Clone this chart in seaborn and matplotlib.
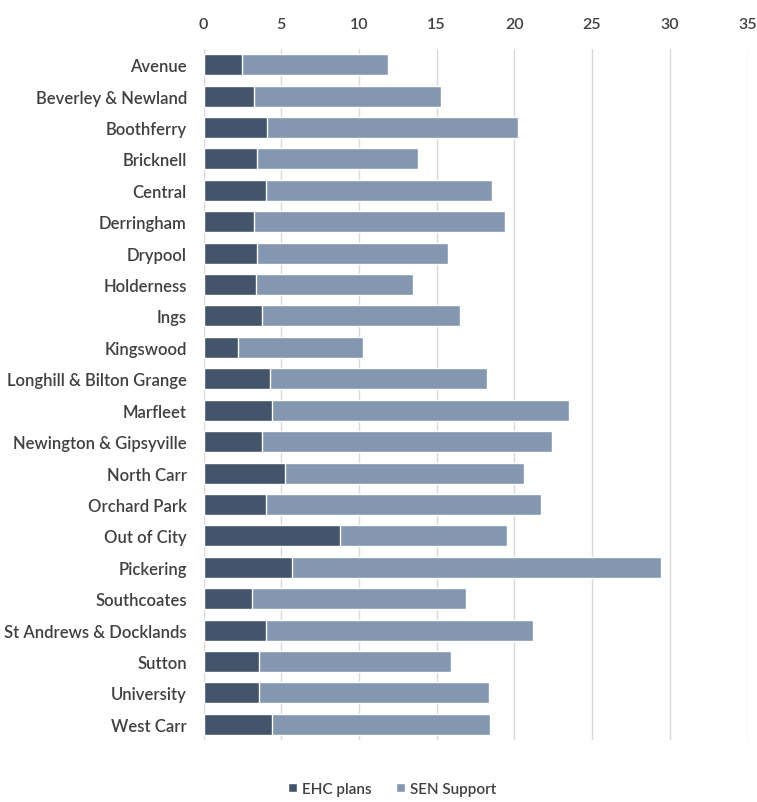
import matplotlib
matplotlib.use("Agg")
import matplotlib.pyplot as plt
from matplotlib.patches import Patch
import seaborn as sns
import pandas as pd

wards = [
    "Avenue", "Beverley & Newland", "Boothferry", "Bricknell", "Central",
    "Derringham", "Drypool", "Holderness", "Ings", "Kingswood",
    "Longhill & Bilton Grange", "Marfleet", "Newington & Gipsyville",
    "North Carr", "Orchard Park", "Out of City", "Pickering", "Southcoates",
    "St Andrews & Docklands", "Sutton", "University", "West Carr",
]
ehc_plans = [2.45, 3.26, 4.09, 3.47, 3.99, 3.26, 3.47, 3.37, 3.77, 2.21,
             4.31, 4.41, 3.77, 5.24, 3.99, 8.81, 5.67, 3.15, 3.99, 3.58,
             3.58, 4.41]
sen_support = [9.40, 12.04, 16.15, 10.36, 14.59, 16.13, 12.25, 10.14, 12.72, 8.06,
               13.95, 19.09, 18.65, 15.41, 17.71, 10.69, 23.79, 13.72, 17.20, 12.35,
               14.77, 14.04]
x_ticks = [0, 5, 10, 15, 20, 25, 30, 35]

dark = "#44546A"
light = "#8497B0"
text_col = "#404040"

df = pd.DataFrame({"ward": wards, "ehc": ehc_plans, "sen": sen_support})
df["total"] = df["ehc"] + df["sen"]

sns.set_theme(style="white")
plt.rcParams["font.family"] = ["Lato", "DejaVu Sans"]
plt.rcParams["font.weight"] = "semibold"

fig = plt.figure(figsize=(7.57, 8.03), dpi=100)
ax = fig.add_axes([203.5 / 757, 1 - 741 / 803, (747.5 - 203.5) / 757, (741 - 50) / 803])

# Stacked horizontal bars: the full total in the light tone, EHC share over it
sns.barplot(data=df, x="total", y="ward", color=light, orient="h",
            width=0.67, saturation=1, ax=ax, zorder=3)
sns.barplot(data=df, x="ehc", y="ward", color=dark, orient="h",
            width=0.67, saturation=1, ax=ax, zorder=4)

ax.set_xlim(0, 35)
ax.set_xticks(x_ticks)
ax.xaxis.tick_top()
ax.set_xlabel("")
ax.set_ylabel("")
ax.grid(axis="x", color="#D9D9D9", linewidth=1, zorder=0)
ax.grid(axis="y", visible=False)
for s in ax.spines.values():
    s.set_visible(False)
ax.tick_params(axis="both", length=0, labelsize=12, colors=text_col)
ax.tick_params(axis="y", pad=12)
ax.tick_params(axis="x", pad=13, labelsize=11.5)

handles = [Patch(facecolor=dark, label="EHC plans"),
           Patch(facecolor=light, label="SEN Support")]
fig.legend(handles=handles, loc="center", bbox_to_anchor=(392 / 757, 1 - 790 / 803),
           ncol=2, frameon=False, fontsize=11, handlelength=0.6, handleheight=0.6,
           handletextpad=0.3, columnspacing=1.6, labelcolor=text_col)

fig.savefig("out.png", dpi=100)
